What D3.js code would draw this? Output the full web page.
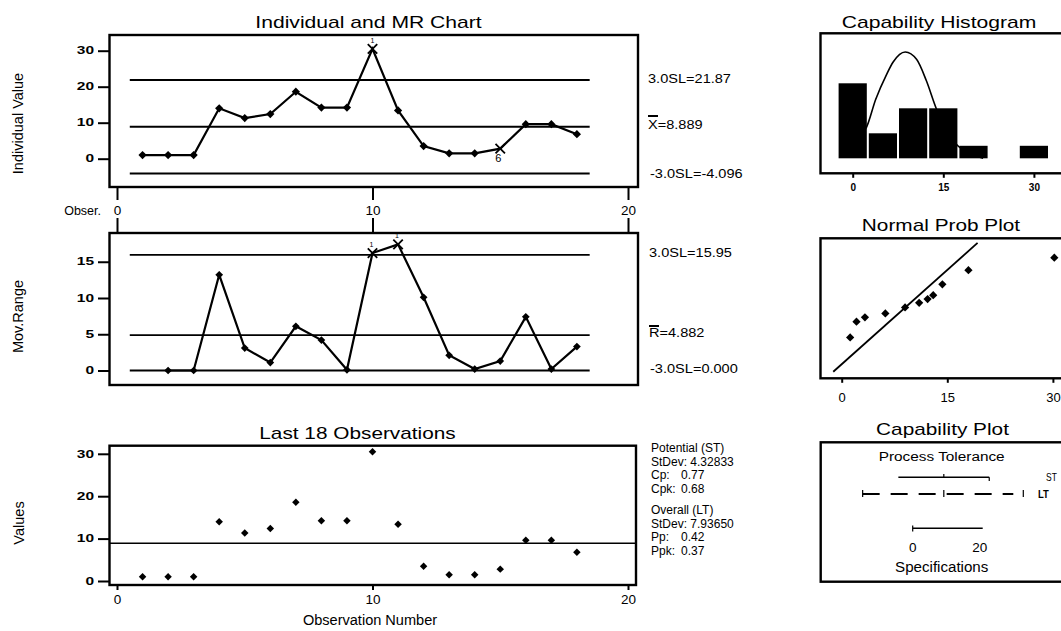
<!DOCTYPE html>
<html>
<head>
<meta charset="utf-8">
<script src="https://cdn.jsdelivr.net/npm/d3@7"></script>
<style>
  body { margin: 0; background: #fff; }
  svg { font-family: "Liberation Sans", Arial, sans-serif; }
</style>
</head>
<body>
<svg id="chart" width="1061" height="631"></svg>
<script>
// ---- data ----
var observations = [1, 2, 3, 4, 5, 6, 7, 8, 9, 10, 11, 12, 13, 14, 15, 16, 17, 18];
var individualValues = [1.0, 1.0, 1.0, 14.0, 11.3, 12.4, 18.6, 14.2, 14.2, 30.5, 13.4, 3.5, 1.5, 1.5, 2.8, 9.6, 9.6, 6.8];
var movingRanges = [null, 0, 0, 13.2, 3.1, 1.1, 6.1, 4.2, 0.1, 16.2, 17.4, 10.1, 2.1, 0.2, 1.3, 7.4, 0.2, 3.3];
var obsTicks = [0, 10, 20];
var individualTicks = [0, 10, 20, 30];
var rangeTicks = [0, 5, 10, 15];
var valueTicks = [0, 10, 20, 30];
var individualLimits = [21.87, 8.889, -4.096];
var individualLimitLabels = ['3.0SL=21.87', 'X=8.889', '-3.0SL=-4.096'];
var rangeLimits = [15.95, 4.882, 0.0];
var rangeLimitLabels = ['3.0SL=15.95', 'R=4.882', '-3.0SL=0.000'];
var individualFlags = [{ obs: 10, test: '1', below: false }, { obs: 15, test: '6', below: true }];
var rangeFlags = [{ obs: 10, test: '1', below: false }, { obs: 11, test: '1', below: false }];
var processMean = 8.889;

var histBins = [0, 5, 10, 15, 20, 25, 30];
var histCounts = [6, 2, 4, 4, 1, 0, 1];
var histTicks = [0, 15, 30];
var curveX = [1.0, 2.3, 3.8, 5.6, 6.7, 8.7, 10.6, 12.2, 13.9, 15.5, 17.2, 19.4, 21.6];
var curveCounts = [1.7, 2.5, 4.7, 6.7, 7.7, 8.5, 7.9, 6.2, 3.9, 2.3, 1.1, 0.4, 0.0];

var probValues = [1.2, 2.1, 3.3, 6.2, 9.0, 11.0, 12.2, 13.0, 14.3, 18.0, 30.2];
var probScores = [-1.07, -0.49, -0.33, -0.19, 0.03, 0.2, 0.34, 0.48, 0.88, 1.4, 1.86];
var probFitX = [-1.2, 19.3];
var probFitScores = [-2.33, 2.4];
var probTicks = [0, 15, 30];

var specLimits = [0, 20];
var stTolerance = [-4.096, 8.889, 21.87];
var ltTolerance = [-14.3, 8.889, 31.6];

var potentialRows = [['Potential (ST)', ''], ['StDev: 4.32833', ''], ['Cp:', '0.77'], ['Cpk:', '0.68']];
var overallRows = [['Overall (LT)', ''], ['StDev: 7.93650', ''], ['Pp:', '0.42'], ['Ppk:', '0.37']];

var svg = d3.select('#chart');

function addText(g, x, y, str, size, opts) {
  opts = opts || {};
  var tf = 'translate(' + x + ',' + y + ')';
  if (opts.rotate) tf += ' rotate(' + opts.rotate + ')';
  tf += ' scale(' + (opts.sx || 1) + ',1)';
  return g.append('text')
    .attr('transform', tf)
    .attr('text-anchor', opts.anchor || 'start')
    .attr('font-size', size)
    .attr('font-weight', opts.weight || 'normal')
    .attr('fill', '#000')
    .text(str);
}

function drawFrame(x0, y0, x1, y1) {
  svg.append('rect')
    .attr('x', x0).attr('y', y0)
    .attr('width', x1 - x0).attr('height', y1 - y0)
    .attr('fill', 'none')
    .attr('stroke', '#000')
    .attr('stroke-width', 2.4);
}

function styleAxis(ax) {
  ax.attr('font-family', null).attr('font-size', null);
  ax.select('.domain').remove();
  ax.selectAll('line').attr('stroke', '#000').attr('stroke-width', 2);
  ax.selectAll('text').attr('fill', '#000');
  return ax;
}

function leftAxis(scale, ticks) {
  var ax = svg.append('g')
    .attr('transform', 'translate(109,0)')
    .call(d3.axisLeft(scale).tickValues(ticks).tickSize(11).tickPadding(4));
  styleAxis(ax);
  ax.selectAll('text')
    .attr('x', null)
    .attr('transform', 'translate(-15,0) scale(1.55,1)')
    .attr('font-size', 10)
    .attr('font-weight', 'bold');
}

function diamonds(g, pts, x, y, size) {
  g.selectAll('.dia')
    .data(pts)
    .enter().append('path')
    .attr('class', 'dia')
    .attr('d', d3.symbol().type(d3.symbolSquare).size(size))
    .attr('transform', function(d) { return 'translate(' + x(d[0]) + ',' + y(d[1]) + ') rotate(45)'; })
    .attr('fill', '#000');
}

var timesType = d3.symbolTimes || d3.symbolCross;

var xObs = d3.scaleLinear().domain([0, 20]).range([117, 628]);

// ---------------- Individual chart ----------------
var yInd = d3.scaleLinear().domain([0, 30]).range([158.7, 50.7]);
var g1 = svg.append('g');

addText(svg, 368.5, 28, 'Individual and MR Chart', 16, { anchor: 'middle', sx: 1.32 });
addText(svg, 23, 123.5, 'Individual Value', 14.5, { anchor: 'middle', rotate: -90 });

g1.selectAll('.limit')
  .data(individualLimits)
  .enter().append('line')
  .attr('class', 'limit')
  .attr('x1', xObs(0.5)).attr('x2', xObs(18.5))
  .attr('y1', function(d) { return yInd(d); })
  .attr('y2', function(d) { return yInd(d); })
  .attr('stroke', '#000').attr('stroke-width', 1.9);

var indPts = observations.map(function(o, i) { return [o, individualValues[i]]; });
g1.append('path')
  .datum(indPts)
  .attr('fill', 'none').attr('stroke', '#000').attr('stroke-width', 2.2)
  .attr('d', d3.line().x(function(d) { return xObs(d[0]); }).y(function(d) { return yInd(d[1]); }));

var flaggedInd = individualFlags.map(function(f) { return f.obs; });
diamonds(g1, indPts.filter(function(d) { return flaggedInd.indexOf(d[0]) < 0; }), xObs, yInd, 34);

individualFlags.forEach(function(f) {
  var v = individualValues[f.obs - 1];
  g1.append('path')
    .attr('d', d3.symbol().type(timesType).size(60))
    .attr('transform', 'translate(' + xObs(f.obs) + ',' + yInd(v) + ')')
    .attr('fill', 'none').attr('stroke', '#000').attr('stroke-width', 1.8);
  if (f.below) {
    addText(g1, xObs(f.obs) - 2, yInd(v) + 13, f.test, 11, { anchor: 'middle' });
  } else {
    addText(g1, xObs(f.obs), yInd(v) - 6, f.test, 7, { anchor: 'middle' });
  }
});

drawFrame(109.5, 35, 638, 187);
leftAxis(yInd, individualTicks);

var indLabelY = [83, 129.3, 178];
individualLimitLabels.forEach(function(s, i) {
  addText(svg, i == 2 ? 650 : 648, indLabelY[i], s, 13, { sx: 1.12 });
});
svg.append('line').attr('x1', 648).attr('x2', 658).attr('y1', 116).attr('y2', 116)
  .attr('stroke', '#000').attr('stroke-width', 2);

// observation axis between the two control charts
var obsAx = svg.append('g')
  .attr('transform', 'translate(0,188)')
  .call(d3.axisBottom(xObs).tickValues(obsTicks).tickSize(12).tickPadding(5.4));
styleAxis(obsAx);
obsAx.selectAll('text').attr('font-size', 13.5);
var obsAx2 = svg.append('g')
  .attr('transform', 'translate(0,233)')
  .call(d3.axisTop(xObs).tickValues(obsTicks).tickSize(15).tickFormat(''));
styleAxis(obsAx2);
addText(svg, 101, 215, 'Obser.', 12.5, { anchor: 'end' });

// ---------------- Moving range chart ----------------
var yMR = d3.scaleLinear().domain([0, 15]).range([370.5, 261.75]);
var g2 = svg.append('g');

addText(svg, 23, 316.5, 'Mov.Range', 14.5, { anchor: 'middle', rotate: -90 });

g2.selectAll('.limit')
  .data(rangeLimits)
  .enter().append('line')
  .attr('class', 'limit')
  .attr('x1', xObs(0.5)).attr('x2', xObs(18.5))
  .attr('y1', function(d) { return yMR(d); })
  .attr('y2', function(d) { return yMR(d); })
  .attr('stroke', '#000').attr('stroke-width', 1.9);

var mrPts = observations.map(function(o, i) { return [o, movingRanges[i]]; })
  .filter(function(d) { return d[1] != null; });
g2.append('path')
  .datum(mrPts)
  .attr('fill', 'none').attr('stroke', '#000').attr('stroke-width', 2.2)
  .attr('d', d3.line().x(function(d) { return xObs(d[0]); }).y(function(d) { return yMR(d[1]); }));

var flaggedMR = rangeFlags.map(function(f) { return f.obs; });
diamonds(g2, mrPts.filter(function(d) { return flaggedMR.indexOf(d[0]) < 0; }), xObs, yMR, 30);

rangeFlags.forEach(function(f) {
  var v = movingRanges[f.obs - 1];
  g2.append('path')
    .attr('d', d3.symbol().type(timesType).size(60))
    .attr('transform', 'translate(' + xObs(f.obs) + ',' + yMR(v) + ')')
    .attr('fill', 'none').attr('stroke', '#000').attr('stroke-width', 1.8);
  addText(g2, xObs(f.obs) - 1, yMR(v) - 6, f.test, 7, { anchor: 'middle' });
});

drawFrame(109.5, 233, 638, 385);
leftAxis(yMR, rangeTicks);

var mrLabelY = [257.3, 337.3, 373.3];
rangeLimitLabels.forEach(function(s, i) {
  addText(svg, i == 2 ? 650 : 649, mrLabelY[i], s, 13, { sx: 1.12 });
});
svg.append('line').attr('x1', 649).attr('x2', 659).attr('y1', 326).attr('y2', 326)
  .attr('stroke', '#000').attr('stroke-width', 2);

// ---------------- Last 18 observations ----------------
var yVal = d3.scaleLinear().domain([0, 30]).range([581, 453.8]);
var g3 = svg.append('g');

addText(svg, 357.5, 439, 'Last 18 Observations', 16, { anchor: 'middle', sx: 1.3 });
addText(svg, 24, 523, 'Values', 14.5, { anchor: 'middle', rotate: -90 });

g3.append('line')
  .attr('x1', 109.5).attr('x2', 636)
  .attr('y1', yVal(processMean)).attr('y2', yVal(processMean))
  .attr('stroke', '#000').attr('stroke-width', 1.5);

diamonds(g3, indPts, xObs, yVal, 28);
drawFrame(109.5, 445.7, 636, 585);
leftAxis(yVal, valueTicks);

var botAx = svg.append('g')
  .attr('transform', 'translate(0,585)')
  .call(d3.axisBottom(xObs).tickValues(obsTicks).tickSize(5).tickPadding(4.4));
styleAxis(botAx);
botAx.selectAll('text').attr('font-size', 13.5);
addText(svg, 370, 625, 'Observation Number', 14, { anchor: 'middle', sx: 1.04 });

// capability statistics, two blocks of rows
var statY = [452, 465.5, 479, 492.5];
potentialRows.forEach(function(r, i) {
  addText(svg, 651, statY[i], r[0], 12);
  if (r[1]) addText(svg, 681, statY[i], r[1], 12);
});
var statY2 = [514, 527.5, 541, 554.5];
overallRows.forEach(function(r, i) {
  addText(svg, 651, statY2[i], r[0], 12);
  if (r[1]) addText(svg, 681, statY2[i], r[1], 12);
});

// ---------------- Capability histogram ----------------
var xHist = d3.scaleLinear().domain([0, 15]).range([852.7, 943.3]);
var yHist = d3.scaleLinear().domain([0, 6]).range([158.3, 83.3]);
var g4 = svg.append('g');

addText(svg, 939, 28.3, 'Capability Histogram', 16, { anchor: 'middle', sx: 1.32 });

var curvePts = curveX.map(function(x, i) { return [x, curveCounts[i]]; });
g4.append('path')
  .datum(curvePts)
  .attr('fill', 'none').attr('stroke', '#000').attr('stroke-width', 1.6)
  .attr('d', d3.line().curve(d3.curveMonotoneX)
    .x(function(d) { return xHist(d[0]); })
    .y(function(d) { return yHist(d[1]); }));

var binData = histBins.map(function(b, i) { return { mid: b, count: histCounts[i] }; })
  .filter(function(d) { return d.count > 0; });
g4.selectAll('.bar')
  .data(binData)
  .enter().append('rect')
  .attr('class', 'bar')
  .attr('x', function(d) { return xHist(d.mid - 2.5) + 1; })
  .attr('width', function(d) { return xHist(d.mid + 2.5) - xHist(d.mid - 2.5) - 2; })
  .attr('y', function(d) { return yHist(d.count); })
  .attr('height', function(d) { return yHist(0) - yHist(d.count); })
  .attr('fill', '#000');

drawFrame(820.5, 33.3, 1070, 173.3);
var histAx = svg.append('g')
  .attr('transform', 'translate(0,173.3)')
  .call(d3.axisBottom(xHist).tickValues(histTicks).tickSize(4.5).tickPadding(6.6));
styleAxis(histAx);
histAx.selectAll('text').attr('font-size', 10).attr('font-weight', 'bold');

// ---------------- Normal probability plot ----------------
var xProb = d3.scaleLinear().domain([0, 15]).range([841.7, 947.3]);
var yProb = d3.scaleLinear().domain([-2.57, 2.57]).range([378.3, 238.3]);
var g5 = svg.append('g');

addText(svg, 941, 231, 'Normal Prob Plot', 16, { anchor: 'middle', sx: 1.3 });

var fitPts = probFitX.map(function(x, i) { return [x, probFitScores[i]]; });
g5.append('path')
  .datum(fitPts)
  .attr('fill', 'none').attr('stroke', '#000').attr('stroke-width', 1.8)
  .attr('d', d3.line().x(function(d) { return xProb(d[0]); }).y(function(d) { return yProb(d[1]); }));

var probPts = probValues.map(function(v, i) { return [v, probScores[i]]; });
diamonds(g5, probPts, xProb, yProb, 34);

drawFrame(820.5, 238.3, 1070, 378.3);
var probAx = svg.append('g')
  .attr('transform', 'translate(0,378.3)')
  .call(d3.axisBottom(xProb).tickValues(probTicks).tickSize(4.5).tickPadding(9.5));
styleAxis(probAx);
probAx.selectAll('text').attr('font-size', 13);

// ---------------- Capability plot ----------------
var xCap = d3.scaleLinear().domain([0, 20]).range([912.7, 982.7]);
var g6 = svg.append('g');

addText(svg, 942.5, 435, 'Capability Plot', 16, { anchor: 'middle', sx: 1.3 });
drawFrame(820.7, 442.3, 1070, 581.7);
addText(svg, 941.7, 461, 'Process Tolerance', 12, { anchor: 'middle', sx: 1.28 });

// short term tolerance
g6.append('line')
  .attr('x1', xCap(stTolerance[0])).attr('x2', xCap(stTolerance[2]))
  .attr('y1', 477.3).attr('y2', 477.3)
  .attr('stroke', '#000').attr('stroke-width', 1.6);
g6.append('line')
  .attr('x1', xCap(stTolerance[1])).attr('x2', xCap(stTolerance[1]))
  .attr('y1', 474).attr('y2', 477.3)
  .attr('stroke', '#000').attr('stroke-width', 1.2);
g6.append('line')
  .attr('x1', xCap(stTolerance[2])).attr('x2', xCap(stTolerance[2]))
  .attr('y1', 477.3).attr('y2', 481)
  .attr('stroke', '#000').attr('stroke-width', 1.2);
addText(svg, 1046, 481, 'ST', 10, { sx: 0.85 });

// long term tolerance
g6.append('line')
  .attr('x1', xCap(ltTolerance[0])).attr('x2', xCap(ltTolerance[2]) - 10)
  .attr('y1', 494).attr('y2', 494)
  .attr('stroke', '#000').attr('stroke-width', 1.8)
  .attr('stroke-dasharray', '17,11');
g6.selectAll('.ltTick')
  .data(ltTolerance)
  .enter().append('line')
  .attr('class', 'ltTick')
  .attr('x1', function(d) { return xCap(d); })
  .attr('x2', function(d) { return xCap(d); })
  .attr('y1', 490).attr('y2', 497)
  .attr('stroke', '#000').attr('stroke-width', 1.2);
addText(svg, 1038, 498, 'LT', 10, { weight: 'bold', sx: 0.95 });

// specifications
g6.append('line')
  .attr('x1', xCap(specLimits[0])).attr('x2', xCap(specLimits[1]))
  .attr('y1', 528.3).attr('y2', 528.3)
  .attr('stroke', '#000').attr('stroke-width', 1.6);
g6.append('line')
  .attr('x1', xCap(specLimits[0])).attr('x2', xCap(specLimits[0]))
  .attr('y1', 525.5).attr('y2', 531.5)
  .attr('stroke', '#000').attr('stroke-width', 1.2);
specLimits.forEach(function(s) {
  addText(svg, xCap(s) - (s > 0 ? 3 : 0), 551.7, String(s), 13.5, { anchor: 'middle' });
});
addText(svg, 941.7, 571.7, 'Specifications', 14, { anchor: 'middle', sx: 1.08 });
</script>
</body>
</html>
